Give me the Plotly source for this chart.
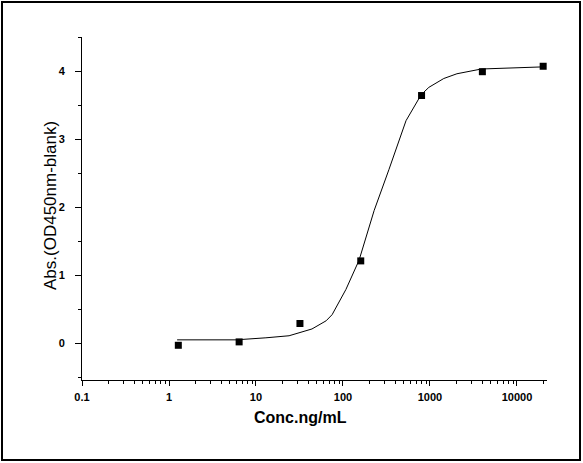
import plotly.graph_objects as go

# Measured data points
conc = [1.28, 6.4, 32, 160, 800, 4000, 20000]
absorbance = [-0.03, 0.02, 0.29, 1.21, 3.64, 3.99, 4.07]

# Fitted curve vertices
fit_conc = [1.24, 5.9, 13, 24, 44, 64, 75, 108, 153, 228, 337, 530, 790, 970, 1440, 2040, 3900, 19000]
fit_abs = [0.05, 0.05, 0.08, 0.11, 0.21, 0.33, 0.42, 0.79, 1.22, 1.95, 2.55, 3.27, 3.65, 3.76, 3.89, 3.96, 4.03, 4.06]

x_tickvals = [0.1, 1, 10, 100, 1000, 10000]
x_ticktext = ["0.1", "1", "10", "100", "1000", "10000"]
y_tickvals = [0, 1, 2, 3, 4]

x_title = "Conc.ng/mL"
y_title = "Abs.(OD450nm-blank)"

W, H = 583, 463
L, R, T, B = 82, 36, 37, 83
pw, ph = W - L - R, H - T - B

fig = go.Figure()
fig.add_trace(go.Scatter(x=fit_conc, y=fit_abs, mode="lines",
                         line=dict(color="black", width=1), hoverinfo="skip"))
fig.add_trace(go.Scatter(x=conc, y=absorbance, mode="markers",
                         marker=dict(symbol="square", size=7, color="black")))

FONT = "Liberation Sans, Arial, sans-serif"
tickfont = dict(family=FONT, size=11, color="black", weight="bold")

fig.update_layout(
    width=W, height=H,
    margin=dict(l=L, r=R, t=T, b=B),
    paper_bgcolor="white", plot_bgcolor="white",
    showlegend=False,
    xaxis=dict(
        type="log", range=[-1, 4.345],
        tickvals=x_tickvals, ticktext=x_ticktext,
        ticks="outside", ticklen=5, tickwidth=1, tickcolor="black",
        minor=dict(ticks="outside", ticklen=3, tickwidth=1, tickcolor="black", dtick="D1", showgrid=False),
        showline=True, linecolor="black", linewidth=1,
        showgrid=False, zeroline=False,
        tickfont=tickfont, ticklabelstandoff=2,
    ),
    yaxis=dict(
        range=[-0.54, 4.5],
        tickvals=y_tickvals,
        ticks="outside", ticklen=6, tickwidth=1, tickcolor="black",
        minor=dict(ticks="outside", ticklen=3, tickwidth=1, tickcolor="black", dtick=0.5, showgrid=False),
        showline=True, linecolor="black", linewidth=1,
        showgrid=False, zeroline=False,
        tickfont=tickfont, ticklabelstandoff=8,
    ),
)

fig.add_annotation(text=x_title, xref="paper", yref="paper",
                   x=(300 - L) / pw, y=(H - B - 417) / ph,
                   xanchor="center", yanchor="middle", showarrow=False,
                   font=dict(family=FONT, size=16, color="black", weight="bold"))
fig.add_annotation(text=y_title, xref="paper", yref="paper",
                   x=(50 - L) / pw, y=(H - B - 206) / ph, textangle=-90,
                   xanchor="center", yanchor="middle", showarrow=False,
                   font=dict(family=FONT, size=17, color="black"))

fig.add_shape(type="rect", xref="paper", yref="paper",
              x0=(2 - L) / pw, x1=(580 - L) / pw,
              y0=(H - B - 460) / ph, y1=(H - B - 2) / ph,
              line=dict(color="black", width=2), fillcolor="rgba(0,0,0,0)", layer="above")

fig.write_html("out.html", config={"displayModeBar": False},
               post_script="document.body.style.margin='0';document.body.style.overflow='hidden';")
